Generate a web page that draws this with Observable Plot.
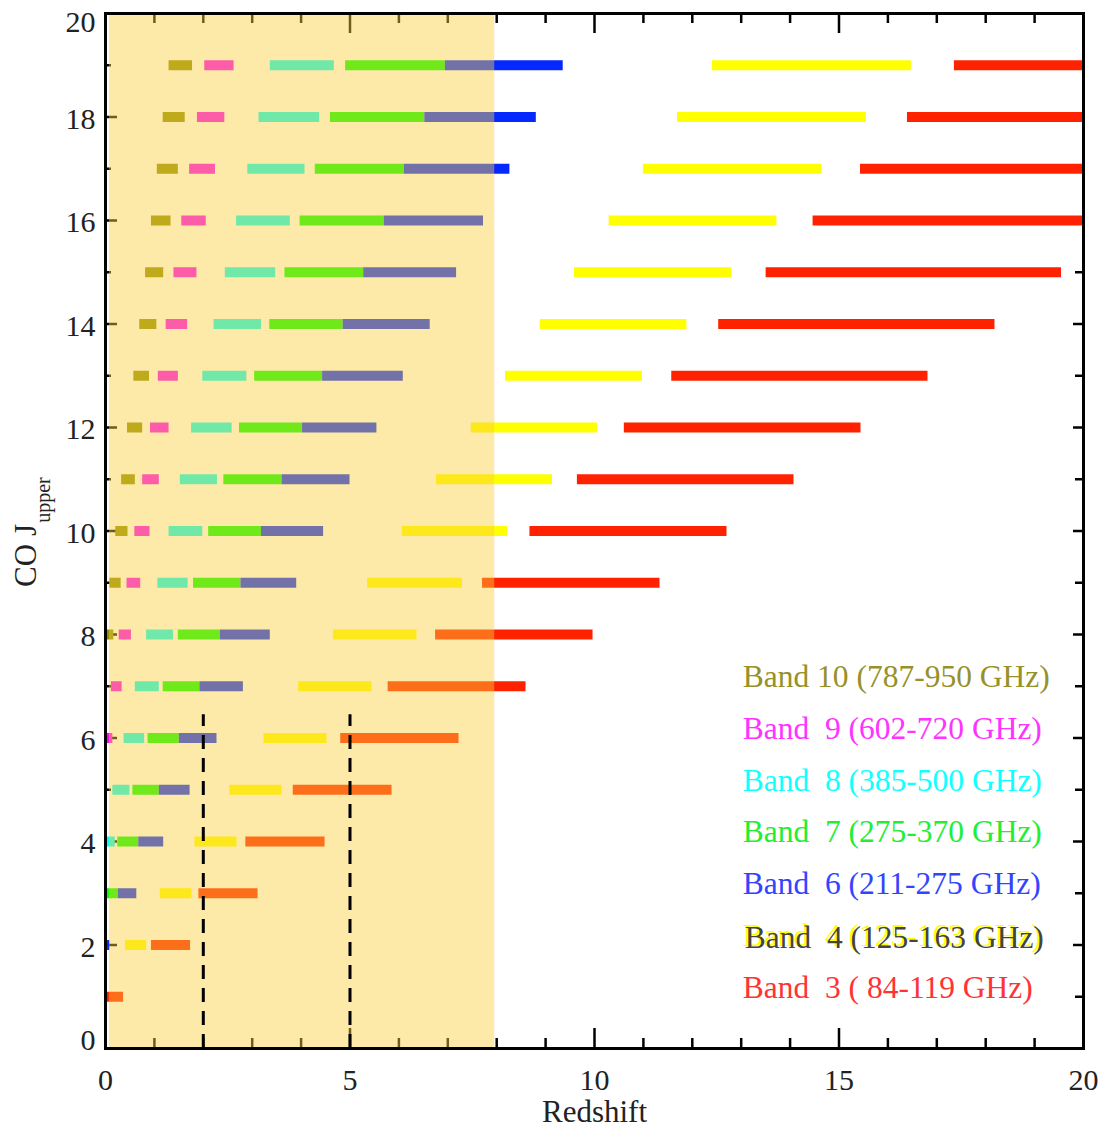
<!DOCTYPE html>
<html><head><meta charset="utf-8">
<script src="https://cdn.jsdelivr.net/npm/d3@7"></script>
<script src="https://cdn.jsdelivr.net/npm/@observablehq/plot@0.6"></script>
<style>body{margin:0;background:#fff}</style>
</head><body><div id="chart"></div>
<script>
// CO upper rotational level
const jUpper = [1,2,3,4,5,6,7,8,9,10,11,12,13,14,15,16,17,18,19];
const bandNames = ["Band 10","Band 9","Band 8","Band 7","Band 6","Band 4","Band 3"];
const bandColors = ["#8d8d00","#ff00ff","#00ffff","#00ff00","#0528ff","#ffff00","#ff2200"];
const legendLabels = ["Band 10 (787-950 GHz)","Band \u00a09 (602-720 GHz)","Band \u00a08 (385-500 GHz)",
  "Band \u00a07 (275-370 GHz)","Band \u00a06 (211-275 GHz)","Band \u00a04 (125-163 GHz)","Band \u00a03 ( 84-119 GHz)"];
const legendColors = ["#969128","#ff33ff","#11ffff","#22ee33","#3344ff","#ffff00","#ff3333"];

// redshift coverage [from, to] per J (null = not covered)
const band10 = [null,null,null,null,null,null,[0,0.02],[0,0.17],[0.09,0.32],[0.21,0.46],[0.33,0.61],[0.45,0.76],[0.58,0.90],[0.70,1.05],[0.82,1.19],[0.94,1.34],[1.06,1.49],[1.18,1.63],[1.30,1.78]];
const band9 = [null,null,null,null,null,[0,0.15],[0.12,0.34],[0.28,0.53],[0.44,0.72],[0.60,0.91],[0.76,1.10],[0.92,1.30],[1.08,1.49],[1.24,1.68],[1.40,1.87],[1.56,2.06],[1.72,2.25],[1.88,2.44],[2.03,2.63]];
const band8 = [null,null,null,[0,0.20],[0.15,0.50],[0.38,0.80],[0.61,1.10],[0.84,1.39],[1.07,1.69],[1.30,1.99],[1.53,2.29],[1.76,2.59],[1.99,2.89],[2.22,3.19],[2.45,3.48],[2.68,3.78],[2.91,4.08],[3.14,4.38],[3.37,4.68]];
const band7 = [null,null,[0,0.26],[0.25,0.68],[0.56,1.10],[0.87,1.51],[1.18,1.93],[1.49,2.35],[1.80,2.77],[2.11,3.19],[2.42,3.61],[2.74,4.03],[3.05,4.44],[3.36,4.86],[3.67,5.28],[3.98,5.70],[4.29,6.11],[4.60,6.53],[4.91,6.95]];
const band6 = [null,[0,0.09],[0.26,0.64],[0.68,1.19],[1.10,1.73],[1.51,2.28],[1.93,2.82],[2.35,3.37],[2.77,3.91],[3.19,4.46],[3.61,5.00],[4.03,5.55],[4.44,6.09],[4.86,6.64],[5.28,7.18],[5.70,7.73],[6.11,8.27],[6.53,8.81],[6.95,9.36]];
const band4 = [null,[0.41,0.84],[1.12,1.77],[1.83,2.69],[2.54,3.61],[3.24,4.53],[3.95,5.45],[4.66,6.37],[5.36,7.30],[6.07,8.22],[6.77,9.14],[7.48,10.06],[8.18,10.98],[8.89,11.89],[9.59,12.81],[10.30,13.73],[11.00,14.65],[11.70,15.56],[12.41,16.48]];
const band3 = [[0,0.37],[0.94,1.74],[1.91,3.12],[2.87,4.49],[3.84,5.86],[4.81,7.23],[5.78,8.60],[6.75,9.97],[7.71,11.34],[8.68,12.71],[9.65,14.08],[10.61,15.45],[11.58,16.82],[12.54,18.19],[13.51,19.55],[14.47,20],[15.44,20],[16.40,20],[17.36,20]];

const shadedZ = [[0.08, 7.96]];
const markedZ = [2, 5];
const markedTopJ = 6.45;

const xTicks = [0,5,10,15,20];
const yTicks = [0,2,4,6,8,10,12,14,16,18,20];

const bandSeries = [band10, band9, band8, band7, band6, band4, band3];
const rows = [];
bandSeries.forEach((s, b) => s.forEach((p, i) => {
  if (p) rows.push({J: jUpper[i], band: bandNames[b], lo: p[0], hi: p[1]});
}));

const W = 1100, H = 1128, mL = 105, mR = 17, mT = 13, mB = 80;
const ux = px => px * 20 / (W - mL - mR);
const uy = px => px * 20 / (H - mT - mB);
const xMinor = d3.range(0, 21).filter(v => v % 5 !== 0);
const yMinor = d3.range(0, 21).filter(v => v % 2 !== 0);
const font = "Liberation Serif";
const tickStyle = {stroke: "black", strokeWidth: 2.5};
const txt = {fontFamily: font, fill: "#222"};

const legendMarks = [];
legendLabels.forEach((t, i) => {
  const base = {x: 13.03, y: 7.1 - i, text: d => d, textAnchor: "start", lineAnchor: "middle", fontSize: 31.5, fontFamily: font, dy: -4};
  if (bandNames[i] === "Band 4") {
    legendMarks.push(Plot.text([t], {...base, fill: legendColors[i]}));
    legendMarks.push(Plot.text([t], {...base, fill: "#2a2a2a", fillOpacity: 0.9, dx: 2, dy: -2}));
  } else {
    legendMarks.push(Plot.text([t], {...base, fill: legendColors[i]}));
  }
});

const plot = Plot.plot({
  width: W, height: H,
  marginLeft: mL, marginRight: mR, marginTop: mT, marginBottom: mB,
  x: {domain: [0, 20], axis: null},
  y: {domain: [0, 20], axis: null},
  color: {domain: bandNames, range: bandColors},
  style: {fontFamily: font, background: "white", color: "#222"},
  marks: [
    // inward ticks
    Plot.ruleX(xTicks, {x: d => d, y1: 0, y2: uy(20), ...tickStyle}),
    Plot.ruleX(xMinor, {x: d => d, y1: 0, y2: uy(10), ...tickStyle}),
    Plot.ruleX(xTicks, {x: d => d, y1: 20, y2: 20 - uy(20), ...tickStyle}),
    Plot.ruleX(xMinor, {x: d => d, y1: 20, y2: 20 - uy(10), ...tickStyle}),
    Plot.ruleY(yTicks, {y: d => d, x1: 0, x2: ux(12), ...tickStyle}),
    Plot.ruleY(yMinor, {y: d => d, x1: 0, x2: ux(6), ...tickStyle}),
    Plot.ruleY(yTicks, {y: d => d, x1: 20, x2: 20 - ux(10), ...tickStyle}),
    Plot.ruleY(yMinor, {y: d => d, x1: 20, x2: 20 - ux(8), ...tickStyle}),
    // coverage bars
    Plot.ruleY(rows, {y: "J", x1: "lo", x2: "hi", stroke: "band", strokeWidth: 10}),
    // shaded region
    Plot.rect(shadedZ, {x1: d => d[0], x2: d => d[1], y1: 0, y2: 20, fill: "rgb(250,206,61)", fillOpacity: 0.449}),
    // dashed markers
    Plot.ruleX(markedZ, {x: d => d, y1: 0, y2: markedTopJ, stroke: "black", strokeWidth: 3, strokeDasharray: "14,9"}),
    Plot.frame({stroke: "black", strokeWidth: 3}),
    // tick labels
    Plot.text(yTicks.filter(v => v > 0 && v < 20), {x: 0, y: d => d, text: d => String(d), textAnchor: "end", lineAnchor: "middle", dx: -10, dy: 2, fontSize: 30, ...txt}),
    Plot.text([20], {x: 0, y: d => d, text: d => String(d), textAnchor: "end", lineAnchor: "middle", dx: -10, dy: 9, fontSize: 30, ...txt}),
    Plot.text([0], {x: 0, y: d => d, text: d => String(d), textAnchor: "end", lineAnchor: "middle", dx: -10, dy: -8, fontSize: 30, ...txt}),
    Plot.text(xTicks, {x: d => d, y: 0, text: d => String(d), lineAnchor: "middle", dy: 32, fontSize: 30, ...txt}),
    // axis titles
    Plot.text(["Redshift"], {frameAnchor: "bottom", text: d => d, lineAnchor: "middle", dy: 64, fontSize: 31, ...txt}),
    Plot.text(["CO J"], {frameAnchor: "left", text: d => d, rotate: -90, lineAnchor: "middle", textAnchor: "middle", dx: -79, dy: 24.5, fontSize: 31, ...txt}),
    Plot.text(["upper"], {frameAnchor: "left", text: d => d, rotate: -90, lineAnchor: "middle", textAnchor: "middle", dx: -62.4, dy: -31, fontSize: 20, ...txt}),
    ...legendMarks
  ]
});
document.getElementById("chart").append(plot);
</script>
</body></html>
